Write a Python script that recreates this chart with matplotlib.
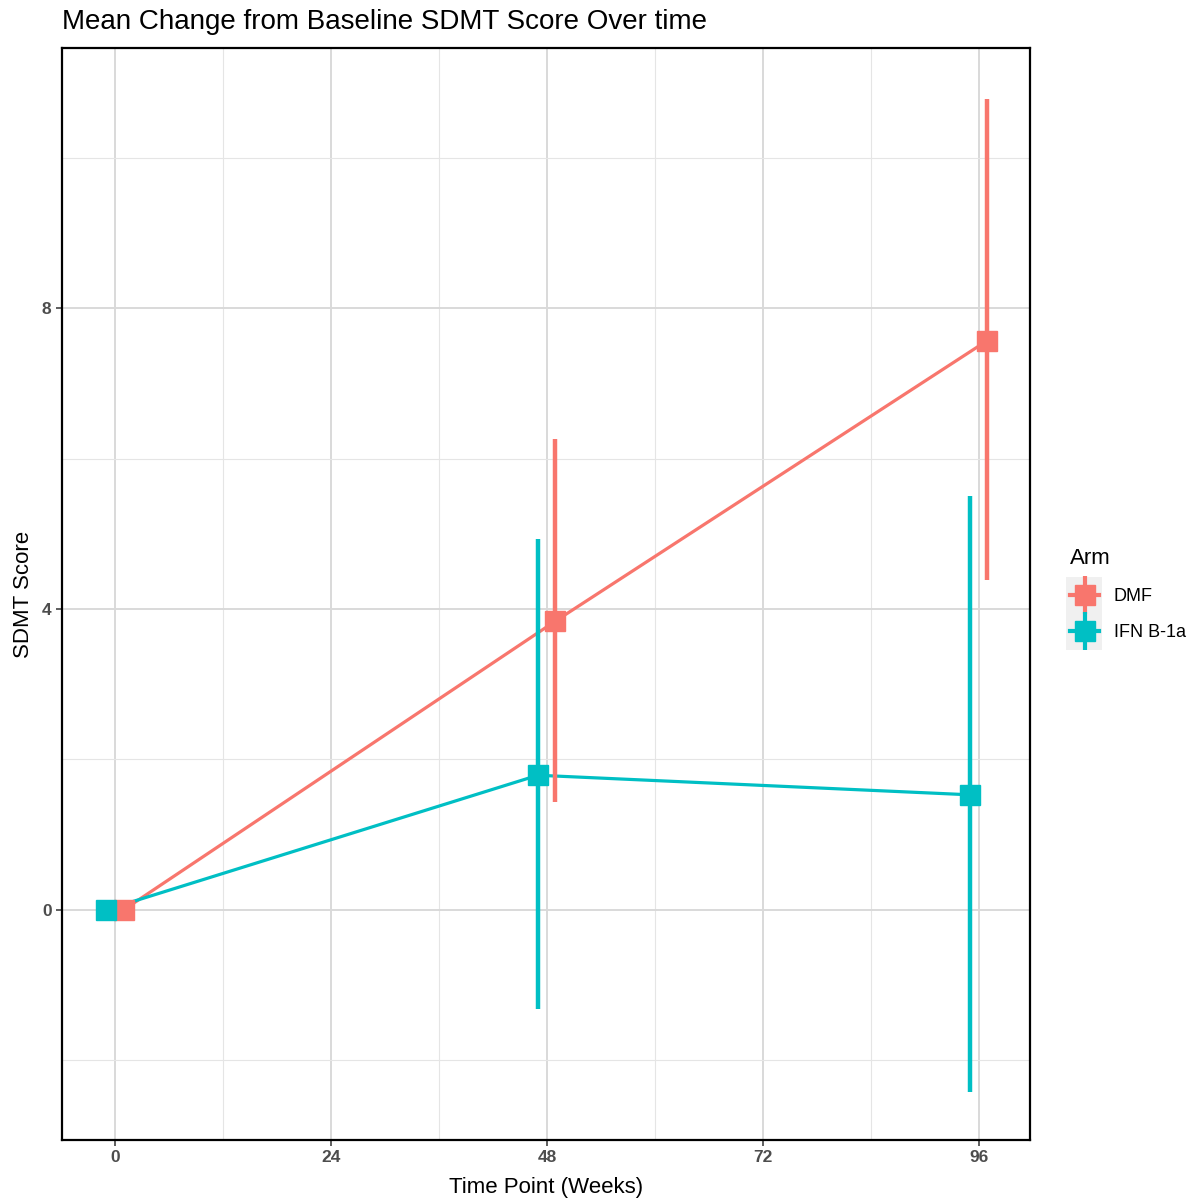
import matplotlib.pyplot as plt
from matplotlib.lines import Line2D
from matplotlib.patches import Rectangle
from matplotlib.ticker import MultipleLocator

plt.rcParams['font.family'] = ['Liberation Sans', 'DejaVu Sans']

weeks = [0, 48, 96]
arms = ['DMF', 'IFN B-1a']
dmf_mean = [0.0, 3.84, 7.57]
dmf_lower = [0.0, 1.43, 4.38]
dmf_upper = [0.0, 6.26, 10.78]
ifn_mean = [0.0, 1.79, 1.53]
ifn_lower = [0.0, -1.32, -2.42]
ifn_upper = [0.0, 4.93, 5.50]
colors = ['#F8766D', '#00BFC4']
dodge = [0.95, -1.0]

fig = plt.figure(figsize=(11.98, 12.02), dpi=100)
ax = fig.add_axes([62 / 1198, 62 / 1202, 968 / 1198, 1092 / 1202])

series = [(dmf_mean, dmf_lower, dmf_upper), (ifn_mean, ifn_lower, ifn_upper)]
for (mean, lo, hi), col, d in zip(series, colors, dodge):
    x = [w + d for w in weeks]
    ax.plot(x, mean, color=col, lw=2.3, zorder=3, solid_capstyle='butt')
for (mean, lo, hi), col, d in zip(series, colors, dodge):
    x = [w + d for w in weeks]
    ax.vlines(x, lo, hi, color=col, lw=3.2, zorder=4)
    ax.plot(x, mean, ls='none', marker='s', ms=14.5, color=col, mec=col, zorder=5)

ax.set_xlim(-5.9, 101.7)
ax.set_ylim(-3.06, 11.46)
ax.xaxis.set_major_locator(MultipleLocator(24))
ax.xaxis.set_minor_locator(MultipleLocator(12))
ax.yaxis.set_major_locator(MultipleLocator(4))
ax.yaxis.set_minor_locator(MultipleLocator(2))
ax.grid(which='major', color='#D9D9D9', lw=1.4, zorder=0)
ax.grid(which='minor', color='#E5E5E5', lw=0.8, zorder=0)
ax.set_axisbelow(True)
for s in ax.spines.values():
    s.set_linewidth(1.6)
    s.set_color('black')
ax.tick_params(which='major', length=4, width=1.1, color='#333333',
               labelcolor='#4D4D4D', labelsize=12.5)
ax.tick_params(which='minor', length=0)
for lab in ax.get_xticklabels() + ax.get_yticklabels():
    lab.set_fontweight('bold')

ax.set_xlabel('Time Point (Weeks)', fontsize=16, labelpad=8)
ax.set_ylabel('SDMT Score', fontsize=16, labelpad=6)
fig.text(62 / 1198, 1 - 22 / 1202, 'Mean Change from Baseline SDMT Score Over time',
         fontsize=20, va='center', ha='left')

# grey legend key background
fig.patches.append(Rectangle((1066 / 1198, 1 - 650 / 1202), 36 / 1198, 73 / 1202,
                             transform=fig.transFigure, facecolor='#F0F0F0',
                             edgecolor='none', zorder=0))

handles = []
for c in colors:
    hline = Line2D([0], [0], color=c, lw=3, marker='s', ms=14.5)
    vline = Line2D([0], [0], color=c, ls='none', marker='|', ms=27, mew=3)
    handles.append((hline, vline))
leg = fig.legend(handles, arms, title='Arm', loc='upper left',
                 bbox_to_anchor=(1054 / 1198, 1 - 532 / 1202),
                 frameon=False, fontsize=13, title_fontsize=16,
                 handlelength=1.6, handletextpad=0.8, labelspacing=1.05)
leg._legend_box.align = 'left'

fig.savefig('out.png', dpi=100)
